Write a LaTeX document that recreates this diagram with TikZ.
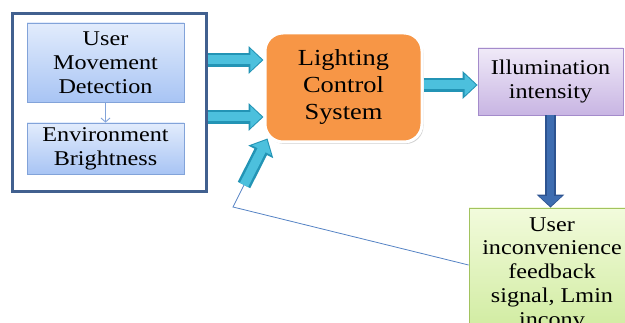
\documentclass[tikz,border=0pt]{standalone}
\usepackage{fontspec}
\setmainfont{Liberation Serif}[FakeStretch=1.15]
\usetikzlibrary{arrows.meta,calc,shadows}
\definecolor{frameblue}{HTML}{41608F}
\definecolor{bluetop}{HTML}{E2ECFC}
\definecolor{bluebot}{HTML}{A8C4F4}
\definecolor{blueedge}{HTML}{82A3D9}
\definecolor{orangefill}{HTML}{F79646}
\definecolor{purptop}{HTML}{F0EAF8}
\definecolor{purpbot}{HTML}{C8B5E3}
\definecolor{purpedge}{HTML}{A48BCB}
\definecolor{greentop}{HTML}{F2FBDC}
\definecolor{greenbot}{HTML}{CFEB9E}
\definecolor{greenedge}{HTML}{A2C35E}
\definecolor{cyandark}{HTML}{2394B5}
\definecolor{cyanlight}{HTML}{4CC0DD}
\definecolor{darkblue}{HTML}{3E6DB1}
\definecolor{darkblueedge}{HTML}{2D5390}
\definecolor{linkblue}{HTML}{5583C4}
\begin{document}
\begin{tikzpicture}[x=1pt,y=-1pt,
  txt/.style={font=\fontsize{21}{23.8}\selectfont, align=center, text=black, inner sep=0pt},
  bluebox/.style={txt, draw=blueedge, line width=0.8pt, top color=bluetop, bottom color=bluebot},
  framebox/.style={draw=frameblue, line width=3pt, fill=white},
  lcsbox/.style={txt, font=\fontsize{23}{27}\selectfont, fill=orangefill, draw=white, line width=3pt, rounded corners=18pt,
     drop shadow={shadow xshift=1.5pt, shadow yshift=-2pt, fill=black!30, opacity=0.6}},
  purpbox/.style={txt, draw=purpedge, line width=0.8pt, top color=purptop, bottom color=purpbot},
  greenbox/.style={txt, draw=greenedge, line width=0.8pt, top color=greentop, bottom color=greenbot},
  cyanouter/.style={draw=cyandark, line width=14pt, -{Triangle[width=27pt,length=15pt]}},
  cyaninner/.style={draw=cyanlight, line width=9pt, -{Triangle[width=21pt,length=11.5pt]}, shorten >=1.6pt},
  downouter/.style={draw=darkblueedge, line width=11pt, -{Triangle[width=27pt,length=13pt]}},
  downinner/.style={draw=darkblue, line width=7pt, -{Triangle[width=22pt,length=10pt]}, shorten >=1.4pt},
  thinlink/.style={draw=linkblue, line width=0.8pt},
  smallarrow/.style={draw=blueedge, line width=0.9pt, -{Straight Barb[length=4pt,width=9pt]}}
]
\useasboundingbox (0,0) rectangle (625,323);
\clip (0,0) rectangle (625,323);

% frame and left boxes
\node[framebox, minimum width=194pt, minimum height=178pt] (frame) at (109,103) {};
\node[bluebox, minimum width=157pt, minimum height=79pt] (umd) at (105.5,62.5) {User\\Movement\\Detection};
\node[bluebox, minimum width=157pt, minimum height=51pt] (env) at (105.5,148.5) {Environment\\Brightness};
\draw[smallarrow] (umd.south) -- (env.north);

% central and right boxes
\node[lcsbox, minimum width=157pt, minimum height=109pt] (lcs) at (343.5,87.5) {Lighting\\Control\\System};
\node[purpbox, minimum width=145pt, minimum height=67pt] (ill) at (550.5,81.5) {Illumination\\intensity};
\node[greenbox, minimum width=166pt, minimum height=128pt] (uic) at (552,272) {User\\inconvenience\\feedback\\signal, Lmin\\inconv};

% block arrows
\foreach \yy in {60,117}{
  \draw[cyanouter] (frame.east |- 0,\yy) -- (lcs.west |- 0,\yy);
  \draw[cyaninner] (frame.east |- 0,\yy) -- (lcs.west |- 0,\yy);
}
\draw[cyanouter] (lcs.east |- 0,85) -- (ill.west |- 0,85);
\draw[cyaninner] (lcs.east |- 0,85) -- (ill.west |- 0,85);

\draw[downouter] (ill.south) -- (ill.south |- uic.north);
\draw[downinner] (ill.south) -- (ill.south |- uic.north);

% feedback
\coordinate (fbtail) at (244,185);
\coordinate (fbcorner) at (233,207);
\coordinate (fbtip) at ($(lcs.south west)+(4,-5)$);
\draw[thinlink] (uic.west |- 0,265) -- (fbcorner) -- (fbtail);
\draw[cyanouter] (fbtail) -- (fbtip);
\draw[cyaninner] (fbtail) -- (fbtip);
\end{tikzpicture}
\end{document}
